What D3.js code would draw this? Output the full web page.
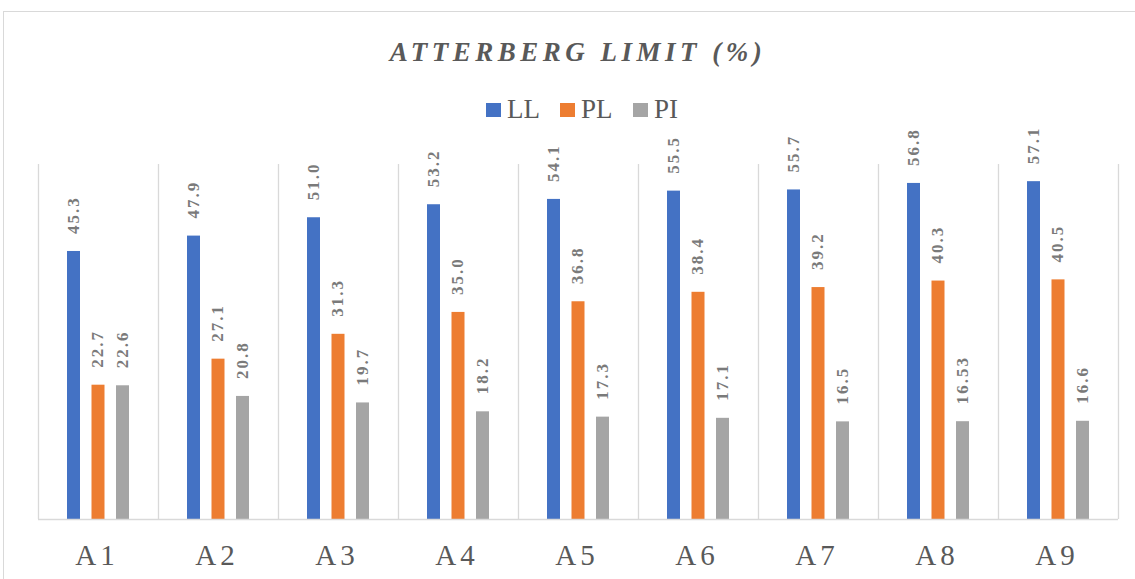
<!DOCTYPE html>
<html>
<head>
<meta charset="utf-8">
<script src="https://cdn.jsdelivr.net/npm/d3@7"></script>
<style>
  html, body { margin: 0; padding: 0; background: #fff; }
  svg { display: block; }
</style>
</head>
<body>
<svg id="chart" width="1135" height="579"></svg>
<script>
// Samples and Atterberg limit series (%)
const categories = ["A1", "A2", "A3", "A4", "A5", "A6", "A7", "A8", "A9"];
const seriesNames = ["LL", "PL", "PI"];
const LL = [45.3, 47.9, 51.0, 53.2, 54.1, 55.5, 55.7, 56.8, 57.1];
const PL = [22.7, 27.1, 31.3, 35.0, 36.8, 38.4, 39.2, 40.3, 40.5];
const PI = [22.6, 20.8, 19.7, 18.2, 17.3, 17.1, 16.5, 16.53, 16.6];
const yTicks = [0, 60];
const colors = ["#4472C4", "#ED7D31", "#A5A5A5"];
const titleText = "ATTERBERG LIMIT (%)";

const values = [LL, PL, PI];
const serif = "Liberation Serif";
const svg = d3.select("#chart");

// outer chart frame
svg.append("rect")
  .attr("x", 3.5).attr("y", 11.5)
  .attr("width", 1300).attr("height", 800)
  .attr("fill", "none").attr("stroke", "#d9d9d9").attr("stroke-width", 1);

const plot = { left: 38, right: 1118, top: 164, bottom: 519 };

const x0 = d3.scaleBand().domain(categories).range([plot.left, plot.right]).padding(0);
const x1 = d3.scalePoint().domain(seriesNames).range([-24.5, 24.5]);
const y = d3.scaleLinear().domain(d3.extent(yTicks)).range([plot.bottom, plot.top]);
const barW = 13;

// category separators
const bounds = categories.map(c => x0(c)).concat([x0(categories[categories.length - 1]) + x0.bandwidth()]);
svg.append("g").selectAll("line").data(bounds).join("line")
  .attr("x1", d => Math.round(d) + 0.5).attr("x2", d => Math.round(d) + 0.5)
  .attr("y1", plot.top).attr("y2", plot.bottom)
  .attr("stroke", "#d9d9d9").attr("stroke-width", 1.3);

// bars
const fmt = v => Number.isInteger(Math.round(v * 100) / 10) ? v.toFixed(1) : String(v);
const data = [];
categories.forEach((c, i) => {
  seriesNames.forEach((s, j) => {
    data.push({ cat: c, series: s, idx: j, value: values[j][i] });
  });
});

const cx = d => x0(d.cat) + x0.bandwidth() / 2 + x1(d.series);

svg.append("g").selectAll("rect").data(data).join("rect")
  .attr("x", d => cx(d) - barW / 2)
  .attr("y", d => y(d.value))
  .attr("width", barW)
  .attr("height", d => y(0) - y(d.value))
  .attr("fill", d => colors[d.idx]);

// baseline
svg.append("line")
  .attr("x1", plot.left).attr("x2", plot.right)
  .attr("y1", plot.bottom + 0.5).attr("y2", plot.bottom + 0.5)
  .attr("stroke", "#d9d9d9").attr("stroke-width", 1.5);

// rotated value labels
const lblSize = 17;
svg.append("g").selectAll("text").data(data).join("text")
  .attr("transform", d => `translate(${cx(d) + lblSize * 0.3},${y(d.value) - 17}) rotate(-90)`)
  .attr("text-anchor", "start")
  .style("font-family", serif)
  .style("font-weight", "bold")
  .style("font-size", lblSize + "px")
  .style("letter-spacing", "2px")
  .attr("fill", "#7a7a7a")
  .text(d => fmt(d.value));

// category labels
svg.append("g").selectAll("text").data(categories).join("text")
  .attr("x", c => x0(c) + x0.bandwidth() / 2 - 1)
  .attr("y", 565)
  .attr("text-anchor", "middle")
  .style("font-family", serif)
  .style("font-size", "29px")
  .style("letter-spacing", "4px")
  .attr("fill", "#595959")
  .text(c => c);

// title
svg.append("text")
  .attr("x", 578).attr("y", 61)
  .attr("text-anchor", "middle")
  .style("font-family", serif)
  .style("font-size", "27px")
  .style("font-style", "italic")
  .style("font-weight", "bold")
  .style("letter-spacing", "4.5px")
  .attr("fill", "#595959")
  .text(titleText);

// legend
const legendX = [486, 560, 633];
const legend = svg.append("g").selectAll("g").data(seriesNames).join("g")
  .attr("transform", (d, i) => `translate(${legendX[i]},0)`);
legend.append("rect")
  .attr("x", 0).attr("y", 103).attr("width", 15).attr("height", 14)
  .attr("fill", (d, i) => colors[i]);
legend.append("text")
  .attr("x", 21).attr("y", 118)
  .style("font-family", serif)
  .style("font-size", "27px")
  .attr("fill", "#595959")
  .text(d => d);
</script>
</body>
</html>
